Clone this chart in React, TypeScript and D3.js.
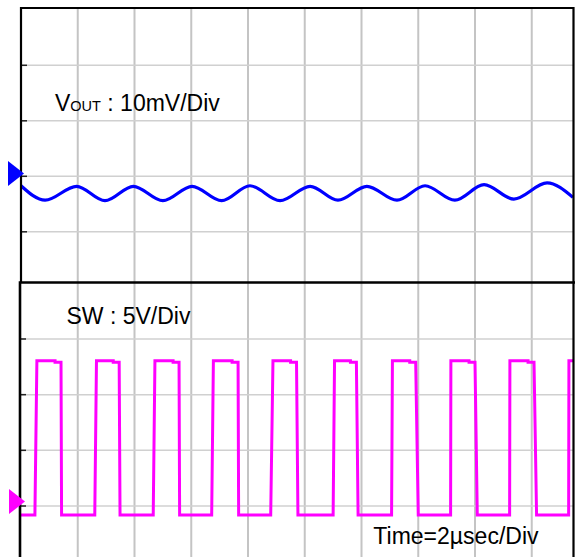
import React, { useEffect, useRef } from 'react';
import * as d3 from 'd3';

const WIDTH = 575;
const HEIGHT = 557;

// time base: 2 µs per division
const timeDomain = [0, 20];
const gridTimes = [2, 4, 6, 8, 10, 12, 14, 16, 18];
const topGridDivs = [-1, 0, 1, 2];
const bottomGridDivs = [0, 1, 2, 3];

// VOUT ripple (mV from channel marker, 10 mV/div), read at peaks / troughs
const voutTimes = [0, 0.85, 1.96, 2.96, 3.96, 5.0, 6.03, 7.07, 8.07, 9.13, 10.19, 11.17, 12.19, 13.25, 14.24, 15.29, 16.32, 17.37, 18.54, 19.45];
const voutMv = [-2.2, -4.8, -2.3, -4.9, -2.3, -4.9, -2.3, -4.9, -2.2, -4.9, -2.3, -4.8, -2.3, -4.8, -2.2, -4.8, -2.0, -4.6, -1.7, -4.3];

// SW node (V from channel marker, 5 V/div), edge times in µs
const swRiseStart = [0.49, 2.6, 4.66, 6.72, 8.8, 11.0, 13.06, 15.14, 17.22, 19.3];
const swRiseEnd = [0.56, 2.66, 4.72, 6.78, 8.88, 11.05, 13.09, 15.15, 17.23, 19.31];
const swStep = [1.2, 3.25, 5.36, 7.44, 9.5, 11.61, 13.7, 15.79, 17.87];
const swFallStart = [1.41, 3.46, 5.57, 7.65, 9.71, 11.82, 13.91, 16.0, 18.08];
const swFallEnd = [1.43, 3.49, 5.59, 7.67, 9.76, 11.88, 14.0, 16.08, 18.17];
const swLow = -1.2;
const swHigh = 12.65;
const swHighEnd = 12.52;

const FONT = 'Liberation Sans, Arial, Helvetica, sans-serif';

const App = () => {
    const svgRef = useRef<SVGSVGElement>(null);

    useEffect(() => {
        const svg = d3.select(svgRef.current);
        svg.selectAll('*').remove();

        const left = 21, right = 573.5, top = 8, split = 282.5, bottom = HEIGHT;

        const x = d3.scaleLinear().domain(timeDomain).range([21, 588.5]);
        // panel grids, in divisions
        const topDiv = d3.scaleLinear().domain([0, 1]).range([176.3, 120.8]);
        const botDiv = d3.scaleLinear().domain([0, 1]).range([506, 450.33]);
        // channel scales (marker = 0)
        const yVout = d3.scaleLinear().domain([0, 10]).range([topDiv(0.05), topDiv(1.05)]);
        const ySw = d3.scaleLinear().domain([0, 5]).range([botDiv(0.08), botDiv(1.08)]);

        svg.append('rect').attr('width', WIDTH).attr('height', HEIGHT).attr('fill', '#fff');

        const defs = svg.append('defs');
        defs.append('clipPath').attr('id', 'clipTop').append('rect')
            .attr('x', left).attr('y', top).attr('width', right - left).attr('height', split - top);
        defs.append('clipPath').attr('id', 'clipBot').append('rect')
            .attr('x', left).attr('y', split).attr('width', right - left).attr('height', bottom - split);

        // grid
        svg.append('g').selectAll('line').data(gridTimes).enter().append('line')
            .attr('x1', d => x(d)).attr('x2', d => x(d))
            .attr('y1', top).attr('y2', bottom)
            .attr('stroke', '#c4c4c4').attr('stroke-width', 2);

        svg.append('g').selectAll('line').data(topGridDivs).enter().append('line')
            .attr('x1', left).attr('x2', right)
            .attr('y1', d => topDiv(d)).attr('y2', d => topDiv(d))
            .attr('stroke', '#d0d0d0').attr('stroke-width', 1.5);
        svg.append('g').selectAll('line').data(bottomGridDivs).enter().append('line')
            .attr('x1', left - 1).attr('x2', right)
            .attr('y1', d => botDiv(d)).attr('y2', d => botDiv(d))
            .attr('stroke', '#d0d0d0').attr('stroke-width', 1.5);

        // left ticks
        svg.append('g').selectAll('line').data(topGridDivs).enter().append('line')
            .attr('x1', left).attr('x2', left + 6)
            .attr('y1', d => topDiv(d)).attr('y2', d => topDiv(d))
            .attr('stroke', '#222').attr('stroke-width', 1.5);
        svg.append('g').selectAll('line').data(bottomGridDivs).enter().append('line')
            .attr('x1', left - 1).attr('x2', left + 5)
            .attr('y1', d => botDiv(d)).attr('y2', d => botDiv(d))
            .attr('stroke', '#222').attr('stroke-width', 1.5);

        // VOUT trace
        const voutLine = d3.line<number>()
            .x((d, i) => x(voutTimes[i]))
            .y(d => yVout(d))
            .curve(d3.curveMonotoneX);
        svg.append('path')
            .attr('clip-path', 'url(#clipTop)')
            .attr('d', voutLine(voutMv))
            .attr('fill', 'none')
            .attr('stroke', '#0000ff')
            .attr('stroke-width', 3.2);

        // SW trace
        const swPts: [number, number][] = [[0, swLow]];
        swRiseStart.forEach((t, i) => {
            swPts.push([t, swLow], [swRiseEnd[i], swHigh]);
            if (i < swFallStart.length) {
                swPts.push([swStep[i], swHigh], [swStep[i], swHighEnd],
                    [swFallStart[i], swHighEnd], [swFallEnd[i], swLow]);
            } else {
                swPts.push([timeDomain[1], swHigh]);
            }
        });
        const swLine = d3.line<[number, number]>()
            .x(d => x(d[0]))
            .y(d => ySw(d[1]));
        svg.append('path')
            .attr('clip-path', 'url(#clipBot)')
            .attr('d', swLine(swPts))
            .attr('fill', 'none')
            .attr('stroke', '#ff00ff')
            .attr('stroke-width', 3)
            .attr('stroke-linejoin', 'miter');

        // frames
        const frame = svg.append('g').attr('stroke', '#000').attr('fill', 'none');
        frame.append('path')
            .attr('d', `M${left},${split}V${top}H${right}V${bottom}`)
            .attr('stroke-width', 2.2);
        frame.append('path')
            .attr('d', `M${left - 1},${bottom}V${split}H${WIDTH}`)
            .attr('stroke-width', 2.6);

        // channel markers
        const tri = (tipX: number, tipY: number) =>
            `M${tipX - 16},${tipY - 12.5}L${tipX},${tipY}L${tipX - 16},${tipY + 12.5}Z`;
        svg.append('path').attr('d', tri(x(0) + 3, yVout(0))).attr('fill', '#0000ff');
        svg.append('path').attr('d', tri(x(0) + 4, ySw(0))).attr('fill', '#ff00ff');

        // labels
        const vLabel = svg.append('text')
            .attr('x', 55).attr('y', 111)
            .attr('font-family', FONT).attr('font-size', 23).attr('fill', '#000');
        vLabel.append('tspan').text('V');
        vLabel.append('tspan').attr('font-size', 14.5).text('OUT');
        vLabel.append('tspan').text(' : 10mV/Div');

        svg.append('text')
            .attr('x', 66.5).attr('y', 323.5)
            .attr('font-family', FONT).attr('font-size', 23).attr('fill', '#000')
            .text('SW : 5V/Div');

        svg.append('text')
            .attr('x', 538.5).attr('y', 543.5)
            .attr('text-anchor', 'end')
            .attr('font-family', FONT).attr('font-size', 23).attr('fill', '#000')
            .text('Time=2µsec/Div');
    }, []);

    return (
        <svg
            ref={svgRef}
            width={WIDTH}
            height={HEIGHT}
            style={{ position: 'absolute', left: 0, top: 0, display: 'block' }}
        ></svg>
    );
};

export default App;
